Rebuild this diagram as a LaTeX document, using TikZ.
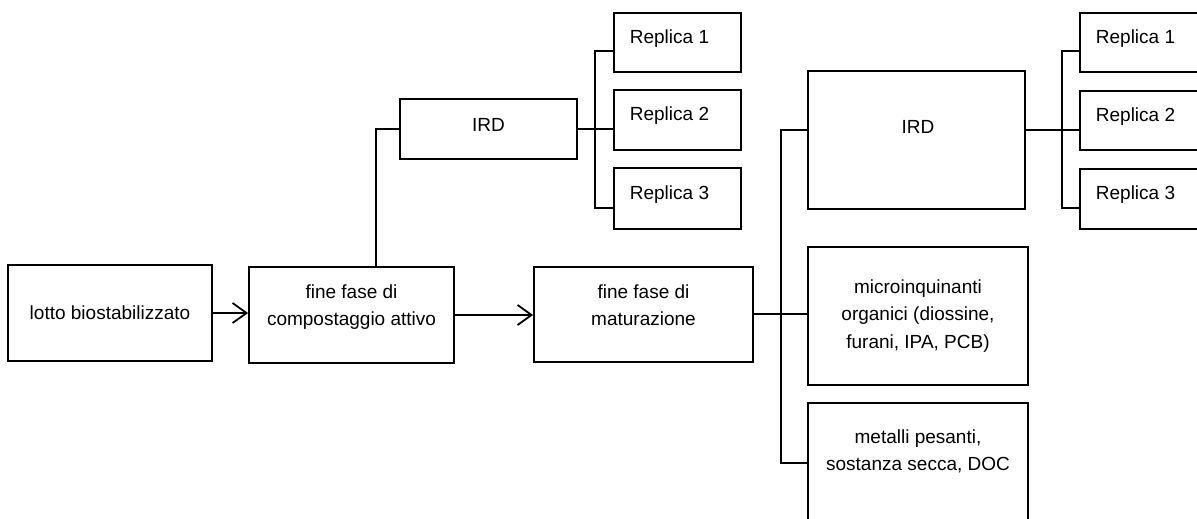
\documentclass[tikz,border=0pt]{standalone}
\usepackage{fontspec}
\setmainfont{Liberation Sans}
\usetikzlibrary{arrows.meta}
\begin{document}
\begin{tikzpicture}[x=1pt,y=-1pt,
  box/.style={draw, line width=1.8pt, rectangle, inner sep=0pt, align=center, font=\fontsize{19}{27.5}\selectfont},
  txt/.style={align=center, inner sep=0pt, font=\fontsize{19}{27}\selectfont},
  conn/.style={line width=1.8pt},
  arr/.style={line width=1.8pt, -{Straight Barb[length=14pt,width=20pt]}}]
\useasboundingbox (0,0) rectangle (1197,519);
\begin{scope}
\clip (0,0) rectangle (1197,519);
% main chain
\node[box, minimum width=204pt, minimum height=96pt] (lotto) at (110,313) {lotto biostabilizzato};
\node[box, minimum width=205pt, minimum height=96pt] (comp) at (351.5,315) {};
\node[txt] (compt) at (351.5,307) {fine fase di\\compostaggio attivo};
\node[box, minimum width=219pt, minimum height=95pt] (matur) at (643.5,314.5) {};
\node[txt] (maturt) at (643.5,305) {fine fase di\\maturazione};
% left IRD branch
\node[box, minimum width=177pt, minimum height=60pt] (ird1) at (488.5,129) {};
\node[txt] (ird1t) at (488.5,125) {IRD};
\node[box, minimum width=127pt, minimum height=59pt] (rL1) at (677.5,42.5) {};
\node[box, minimum width=127pt, minimum height=60pt] (rL2) at (677.5,120) {};
\node[box, minimum width=127pt, minimum height=61pt] (rL3) at (677.5,198.5) {};
\node[txt] (rL1t) at ([xshift=-8pt,yshift=4pt]rL1.center) {Replica 1};
\node[txt] (rL2t) at ([xshift=-8pt,yshift=4pt]rL2.center) {Replica 2};
\node[txt] (rL3t) at ([xshift=-8pt,yshift=4pt]rL3.center) {Replica 3};
% right side
\node[box, minimum width=217pt, minimum height=138pt] (ird2) at (916.5,140) {};
\node[txt] (ird2t) at (918,127) {IRD};
\node[box, minimum width=127pt, minimum height=59pt] (rR1) at (1143.5,42.5) {};
\node[box, minimum width=127pt, minimum height=59pt] (rR2) at (1143.5,120.5) {};
\node[box, minimum width=127pt, minimum height=60pt] (rR3) at (1143.5,199) {};
\node[txt] (rR1t) at ([xshift=-8pt,yshift=4pt]rR1.center) {Replica 1};
\node[txt] (rR2t) at ([xshift=-8pt,yshift=4pt]rR2.center) {Replica 2};
\node[txt] (rR3t) at ([xshift=-8pt,yshift=4pt]rR3.center) {Replica 3};
\node[box, minimum width=220pt, minimum height=138pt] (micro) at (918,316) {microinquinanti\\organici (diossine,\\furani, IPA, PCB)};
\node[box, minimum width=220pt, minimum height=138pt] (metal) at (918,472) {};
\node[txt] (metalt) at (918,451) {metalli pesanti,\\sostanza secca, DOC};
% helper coordinates
\coordinate (bL) at (595,0);
\coordinate (bR) at (781,0);
\coordinate (bRR) at (1062,0);
\coordinate (rL1in) at ([yshift=-8.5pt]rL1.west);
\coordinate (rL3in) at ([yshift=-9.5pt]rL3.west);
\coordinate (rR1in) at ([yshift=-8.5pt]rR1.west);
\coordinate (rR2in) at ([yshift=-9.5pt]rR2.west);
\coordinate (rR3in) at ([yshift=-9pt]rR3.west);
\coordinate (ird2in) at ([yshift=10pt]ird2.west);
\coordinate (ird2out) at ([yshift=10pt]ird2.east);
\coordinate (metin) at ([yshift=9pt]metal.west);
\coordinate (compup) at ([xshift=24.5pt]comp.north);
\coordinate (maturout) at ([yshift=0.5pt]matur.east);
% connectors
\draw[arr] (lotto.east) -- (lotto.east -| comp.west);
\draw[arr] (comp.east) -- (comp.east -| matur.west);
\draw[conn] (compup) |- (ird1.west);
\draw[conn] (ird1.east) -- (ird1.east -| rL2.west);
\draw[conn] (rL1in) -| (rL3in -| bL) -- (rL3in);
\draw[conn] (ird2in) -| (metin -| bR) -- (metin);
\draw[conn] (maturout) -- (maturout -| micro.west);
\draw[conn] (ird2out) -- (rR2in);
\draw[conn] (rR1in) -| (rR3in -| bRR) -- (rR3in);
\end{scope}
\end{tikzpicture}
\end{document}
